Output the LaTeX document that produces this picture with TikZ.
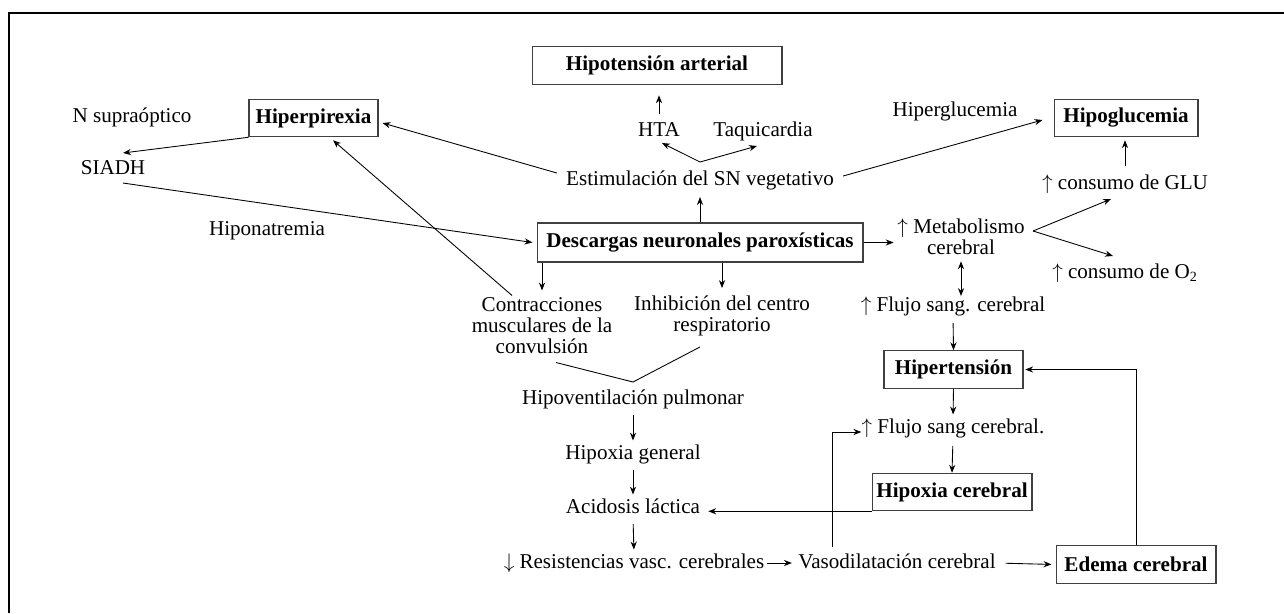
\documentclass[tikz,border=0pt]{standalone}
\usepackage{fontspec}
\setmainfont{Liberation Serif}
\usetikzlibrary{arrows.meta}

\begin{document}
\begin{tikzpicture}[x=0.02cm, y=-0.02cm, font=\fontsize{12}{12}\selectfont,
    txt/.style={inner sep=0pt, text height=8.5pt, text depth=2.5pt},
    multi/.style={inner sep=0pt, align=center},
    box/.style={draw=black!75, line width=0.6pt, font=\fontsize{12}{12}\selectfont\bfseries,
      minimum height=0.75cm, inner sep=0pt},
    arr/.style={-{Stealth[length=4.5pt,width=3.5pt]}, line width=0.5pt},
    dbl/.style={{Stealth[length=4.5pt,width=3.5pt]}-{Stealth[length=4.5pt,width=3.5pt]}, line width=0.5pt},
    link/.style={line width=0.5pt}]
  \useasboundingbox (0,0) rectangle (1284,613);
  % frame
  \draw[line width=1pt] (1284,13) -- (9,13) -- (9,613);

  % nodes, top part
  \node[box, minimum width=5cm] (hipot) at (657,65.5) {Hipotensión arterial};
  \node[txt] (hta) at (659,131) {HTA};
  \node[txt] (taqui) at (763,131) {Taquicardia};
  \node[txt] (estim) at (700,180) {Estimulación del SN vegetativo};
  \node[box, minimum width=2.58cm] (hiperp) at (313.5,118) {Hiperpirexia};
  \node[txt] (nsupra) at (132,117) {N supraóptico};
  \node[txt] (siadh) at (113,169) {SIADH};
  \node[txt] (hipona) at (267,230) {Hiponatremia};
  \node[txt] (hiperg) at (955,111) {Hiperglucemia};
  \node[box, minimum width=2.88cm] (hipog) at (1126,118) {Hipoglucemia};
  \node[txt] (glu) at (1125,184) {$\uparrow$ consumo de GLU};
  \node[box, minimum width=6.52cm, minimum height=0.78cm] (desc) at (700,242.5) {Descargas neuronales paroxísticas};
  \node[multi] (metab) at (961,237) {$\uparrow$ Metabolismo\\cerebral};
  \node[txt] (oxy) at (1125,273) {$\uparrow$ consumo de O\textsubscript{2}};

  % nodes, bottom part
  \node[multi] (contr) at (542,326) {Contracciones\\musculares de la\\convulsión};
  \node[multi] (inhib) at (722,315.5) {Inhibición del centro\\respiratorio};
  \node[txt] (flujoa) at (953,306) {$\uparrow$ Flujo sang. cerebral};
  \node[box, minimum width=2.78cm] (hipert) at (953.5,369.5) {Hipertensión};
  \node[txt] (hipov) at (633,399) {Hipoventilación pulmonar};
  \node[txt] (flujob) at (953,428) {$\uparrow$ Flujo sang cerebral.};
  \node[txt] (hipoxg) at (633,454) {Hipoxia general};
  \node[box, minimum width=3.2cm] (hipcer) at (952,492) {Hipoxia cerebral};
  \node[txt] (acid) at (633,508) {Acidosis láctica};
  \node[txt] (resist) at (634,563) {$\downarrow$ Resistencias vasc. cerebrales};
  \node[txt] (vaso) at (897,563) {Vasodilatación cerebral};
  \node[box, minimum width=3.2cm] (edema) at (1136,564.5) {Edema cerebral};

  \coordinate (fkveg) at (700,162);
  \coordinate (fkmet) at (1033,231);
  \coordinate (vhip) at (633,382);

  % sistema vegetativo
  \draw[arr, shorten >=4pt] (desc.north) -- (estim.south);
  \draw[arr] (fkveg) -- ([xshift=0.06cm,yshift=-0.04cm]hta.south);
  \draw[arr] (fkveg) -- ([xshift=-0.12cm,yshift=-0.1cm]taqui.south);
  \draw[arr, shorten <=4pt, shorten >=6pt] (hta.north) -- (hta.north |- hipot.south);
  \draw[arr] ([xshift=-0.18cm,yshift=0.14cm]estim.west) -- ([xshift=0.08cm,yshift=-0.1cm]hiperp.east);
  \draw[arr] ([xshift=0.18cm,yshift=0.08cm]estim.east) -- ([xshift=-0.22cm,yshift=-0.04cm]hipog.west);

  % hiperpirexia
  \draw[arr] (hiperp.south west) -- ([xshift=0.2cm,yshift=0.12cm]siadh.north);
  \draw[arr] ([xshift=0.2cm,yshift=-0.08cm]siadh.south) -- ([xshift=-0.08cm]desc.west);
  \draw[arr] ([xshift=-0.6cm,yshift=0.04cm]contr.north) -- ([xshift=0.39cm,yshift=-0.06cm]hiperp.south);

  % descargas
  \draw[arr, shorten >=4pt] (contr.north |- desc.south) -- (contr.north);
  \draw[arr, shorten >=4pt] (inhib.north |- desc.south) -- (inhib.north);
  \draw[arr, shorten >=2pt] (desc.east) -- (desc.east -| metab.west);

  % metabolismo
  \draw[arr] (fkmet) -- ([xshift=-0.28cm,yshift=-0.1cm]glu.south);
  \draw[arr] (fkmet) -- ([xshift=-0.24cm,yshift=0.14cm]oxy.north);
  \draw[arr, shorten <=4.5pt, shorten >=1.7pt] (glu.north) -- (glu.north |- hipog.south);
  \draw[dbl, shorten <=3.4pt] (metab.south) -- (metab.south |- flujoa.north);

  % flujo sanguineo
  \draw[arr, shorten <=4pt] (flujoa.south) -- (hipert.north);
  \draw[arr, shorten >=2pt] (hipert.south) -- (flujob.north);
  \draw[arr, shorten <=4.5pt] (flujob.south) -- (hipcer.north);
  \draw[arr, shorten >=4.5pt] (hipcer.south west) -- (acid.east |- hipcer.south west);

  % hipoventilacion
  \draw[link] ([xshift=0.28cm,yshift=-0.16cm]contr.south) -- (vhip) -- ([xshift=-0.44cm,yshift=-0.22cm]inhib.south);
  \draw[arr, shorten <=3.5pt, shorten >=2pt] (hipov.south) -- (hipoxg.north);
  \draw[arr, shorten <=3.5pt, shorten >=2pt] (hipoxg.south) -- (acid.north);
  \draw[arr, shorten <=3.5pt, shorten >=2pt] (acid.south) -- (resist.north);

  % vasodilatacion
  \draw[arr, shorten <=1.5pt, shorten >=3.5pt] (resist.east) -- (vaso.west);
  \draw[arr, shorten <=5.5pt, shorten >=2.3pt] (vaso.east) -- (edema.west);
  \draw[arr, shorten >=1pt] (edema.north) |- (hipert.east);
  \draw[arr] ([xshift=-1.3cm,yshift=0.12cm]vaso.north) |- ([yshift=-0.08cm]flujob.west);
\end{tikzpicture}
\end{document}
